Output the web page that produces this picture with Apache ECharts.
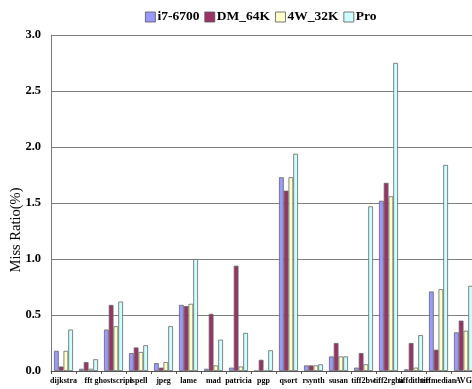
<!DOCTYPE html>
<html><head><meta charset="utf-8">
<script src="https://cdn.jsdelivr.net/npm/echarts@6/dist/echarts.min.js"></script>
<style>html,body{margin:0;padding:0;background:#fff}#c{width:472px;height:389px}</style>
</head><body><div id="c"></div>
<script>
const categories = ['dijkstra','fft','ghostscript','ispell','jpeg','lame','mad','patricia','pgp','qsort','rsynth','susan','tiff2bw','tiff2rgba','tiffdither','tiffmedian','AVG'];
const i7_6700 = [0.18,0.02,0.37,0.16,0.07,0.59,0.02,0.03,0.00,1.73,0.05,0.13,0.03,1.52,0.015,0.71,0.345];
const DM_64K  = [0.04,0.08,0.59,0.21,0.03,0.58,0.51,0.94,0.10,1.61,0.05,0.25,0.16,1.68,0.25,0.19,0.45];
const W4_32K  = [0.18,0.02,0.40,0.17,0.08,0.60,0.05,0.04,0.00,1.73,0.05,0.13,0.06,1.56,0.03,0.73,0.36];
const Pro     = [0.37,0.105,0.62,0.23,0.40,1.00,0.28,0.34,0.185,1.94,0.06,0.13,1.47,2.75,0.32,1.84,0.76];
const seriesNames = ['i7-6700','DM_64K','4W_32K','Pro'];
const colors = ['#9999FF','#993366','#FFFFCC','#CCFFFF'];
const yTicks = [0,0.5,1.0,1.5,2.0,2.5,3.0];

const serif = '"Liberation Serif","DejaVu Serif",serif';
const chart = echarts.init(document.getElementById('c'));
const data = [i7_6700, DM_64K, W4_32K, Pro];
chart.setOption({
  animation: false,
  legend: {
    top: 5, left: 140, itemWidth: 10, itemHeight: 10, itemGap: 5, icon: 'rect',
    itemStyle: {borderColor: '#555', borderWidth: 0.8},
    textStyle: {fontFamily: serif, fontWeight: 'bold', fontSize: 13.5, color: '#000', padding: [0,0,0,-3]},
    data: seriesNames
  },
  grid: {left: 51, right: -4, top: 35, bottom: 18, containLabel: false, outerBoundsMode: 'none'},
  xAxis: {
    type: 'category', data: categories,
    axisLine: {lineStyle: {color: '#555'}},
    axisTick: {show: true, length: 3, lineStyle: {color: '#555'}},
    axisLabel: {interval: 0, fontFamily: serif, fontWeight: 'bold', fontSize: 8, color: '#000', margin: 6, hideOverlap: false}
  },
  yAxis: {
    type: 'value', min: yTicks[0], max: yTicks[yTicks.length-1], interval: 0.5,
    name: 'Miss Ratio(%)', nameLocation: 'middle', nameGap: 27, nameMoveOverlap: false,
    nameTextStyle: {fontFamily: serif, fontSize: 14.5, color: '#000', padding: [0,54,0,0]},
    axisLine: {show: true, lineStyle: {color: '#777'}},
    axisTick: {show: false},
    axisLabel: {formatter: v => v.toFixed(1), fontFamily: serif, fontWeight: 'bold', fontSize: 12.5, color: '#000', margin: 10},
    splitLine: {lineStyle: {color: '#808080', width: 1}}
  },
  series: data.map((d, i) => ({
    name: seriesNames[i], type: 'bar', data: d,
    barGap: '0%', barCategoryGap: '24%',
    itemStyle: {color: colors[i], borderColor: '#666', borderWidth: 0.8}
  }))
});
</script></body></html>
